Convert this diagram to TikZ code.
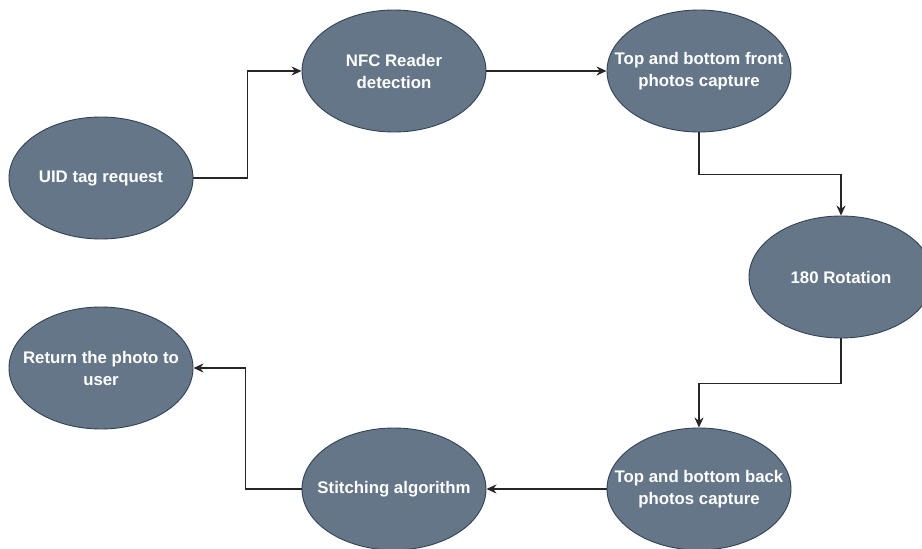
\documentclass[tikz,border=0pt]{standalone}
\usepackage{fontspec}
\setmainfont{Liberation Sans}
\usetikzlibrary{shapes.geometric,arrows.meta}
\definecolor{nodefill}{HTML}{647687}
\definecolor{nodeline}{HTML}{314354}
\begin{document}
\begin{tikzpicture}[x=1pt,y=-1pt,
  proc/.style={ellipse,fill=nodefill,draw=nodeline,line width=0.9pt,minimum width=184pt,minimum height=122pt,inner sep=0pt},
  lbl/.style={text=white,font=\fontsize{16.8}{22}\selectfont\bfseries,align=center,inner sep=0pt},
  arr/.style={line width=1.3pt,draw=black!85,-{Stealth[length=10pt,width=9pt]}}]
\useasboundingbox (0,0) rectangle (922,549);
\fill[white] (0,0) rectangle (922,549);
\node[proc,label={[lbl]center:UID tag request}] (uid) at (101,178) {};
\node[proc,label={[lbl]center:NFC Reader\\detection}] (nfc) at (394,71) {};
\node[proc,label={[lbl]center:Top and bottom front\\photos capture}] (front) at (699,71) {};
\node[proc,label={[lbl]center:180 Rotation}] (rot) at (841,277) {};
\node[proc,label={[lbl]center:Top and bottom back\\photos capture}] (back) at (699,489) {};
\node[proc,label={[lbl]center:Stitching algorithm}] (stitch) at (394,489) {};
\node[proc,label={[lbl]center:Return the photo to\\user}] (ret) at (101,368) {};
\draw[arr] (uid.east) -- ++(54,0) |- (nfc.west);
\draw[arr] (nfc.east) -- (front.west);
\draw[arr] (front.south) -- ++(0,42) -| (rot.north);
\draw[arr] (rot.south) -- ++(0,45) -| (back.north);
\draw[arr] (back.west) -- (stitch.east);
\draw[arr] (stitch.west) -- ++(-56,0) |- (ret.east);
\end{tikzpicture}
\end{document}
